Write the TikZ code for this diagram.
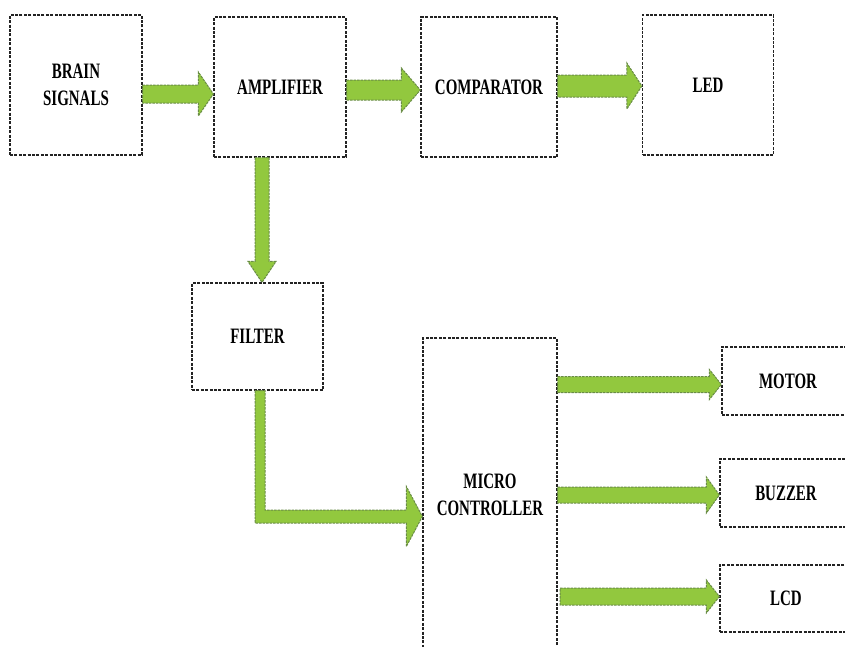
\documentclass[tikz,border=0pt]{standalone}
\usepackage{fontspec}
\newfontfamily\blockfont{Liberation Serif}[FakeStretch=0.68]
\usetikzlibrary{calc}
\definecolor{arrowgreen}{RGB}{146,200,62}
\definecolor{arrowedge}{RGB}{105,140,70}
\definecolor{boxedge}{RGB}{35,35,35}
\tikzset{
  block/.style={rectangle, draw=boxedge, line width=1.3pt, dash pattern=on 3pt off 1.4pt,
    fill=white, inner sep=0pt, align=center,
    font=\blockfont\bfseries\fontsize{22}{27}\selectfont},
  fatarrow/.style={fill=arrowgreen, draw=arrowedge, line width=1pt, dash pattern=on 2.5pt off 1pt}
}
% fat arrows: start, tip, half shaft, half head, head length
\newcommand{\hfat}[5]{\draw[fatarrow] let \p1=(#1), \p2=(#2) in
  (\x1,\y1+#3pt) -- (\x2-#5pt,\y1+#3pt) -- (\x2-#5pt,\y1+#4pt) -- (\x2,\y1)
  -- (\x2-#5pt,\y1-#4pt) -- (\x2-#5pt,\y1-#3pt) -- (\x1,\y1-#3pt) -- cycle;}
\newcommand{\vfat}[5]{\draw[fatarrow] let \p1=(#1), \p2=(#2) in
  (\x1-#3pt,\y1) -- (\x1-#3pt,\y2+#5pt) -- (\x1-#4pt,\y2+#5pt) -- (\x1,\y2)
  -- (\x1+#4pt,\y2+#5pt) -- (\x1+#3pt,\y2+#5pt) -- (\x1+#3pt,\y1) -- cycle;}
\begin{document}
\begin{tikzpicture}[x=1pt,y=-1pt]
  \clip (0,0) rectangle (845,646);

  % Blocks
  \node[block, minimum width=132, minimum height=140] (brain) at (76,85) {BRAIN\\SIGNALS};
  \node[block, minimum width=132, minimum height=140] (amp) at (280,87) {AMPLIFIER};
  \node[block, minimum width=136, minimum height=140] (comp) at (489,87) {COMPARATOR};
  \node[block, minimum width=131, minimum height=140] (led) at (708,85) {LED};
  \node[block, minimum width=131, minimum height=107] (filter) at (257.5,336.5) {FILTER};
  \node[block, minimum width=134, minimum height=314] (mcu) at (490,495) {MICRO\\CONTROLLER};
  \node[block, minimum width=132, minimum height=68] (motor) at (788,381) {MOTOR};
  \node[block, minimum width=132, minimum height=68] (buzzer) at (786,493) {BUZZER};
  \node[block, minimum width=132, minimum height=67] (lcd) at (786,598.5) {LCD};

  % Arrows
  \hfat{brain.east |- 0,94}{amp.west}{9}{22}{15}
  \hfat{amp.east |- 0,90}{comp.west}{10}{22}{19}
  \hfat{comp.east |- 0,86}{led.west}{11}{23}{15}
  \vfat{262,0 |- amp.south}{262,0 |- filter.north}{7}{14}{21}
  \draw[fatarrow] let \p1=(260,0 |- filter.south), \p2=(mcu.west |- 0,516.5) in
    (\x1-5pt,\y1) -- (\x1-5pt,\y2-6.5pt) -- (\x2-16pt,\y2-6.5pt) -- (\x2-16pt,\y2-30pt)
    -- (\x2,\y2) -- (\x2-16pt,\y2+30pt) -- (\x2-16pt,\y2+6.5pt) -- (\x1+5pt,\y2+6.5pt)
    -- (\x1+5pt,\y1) -- cycle;
  \hfat{mcu.east |- 0,384.5}{motor.west}{8}{15}{12}
  \hfat{mcu.east |- 0,495}{buzzer.west}{8}{18}{13}
  \hfat{560,596.5}{lcd.west}{8.5}{16.5}{13}
\end{tikzpicture}
\end{document}
